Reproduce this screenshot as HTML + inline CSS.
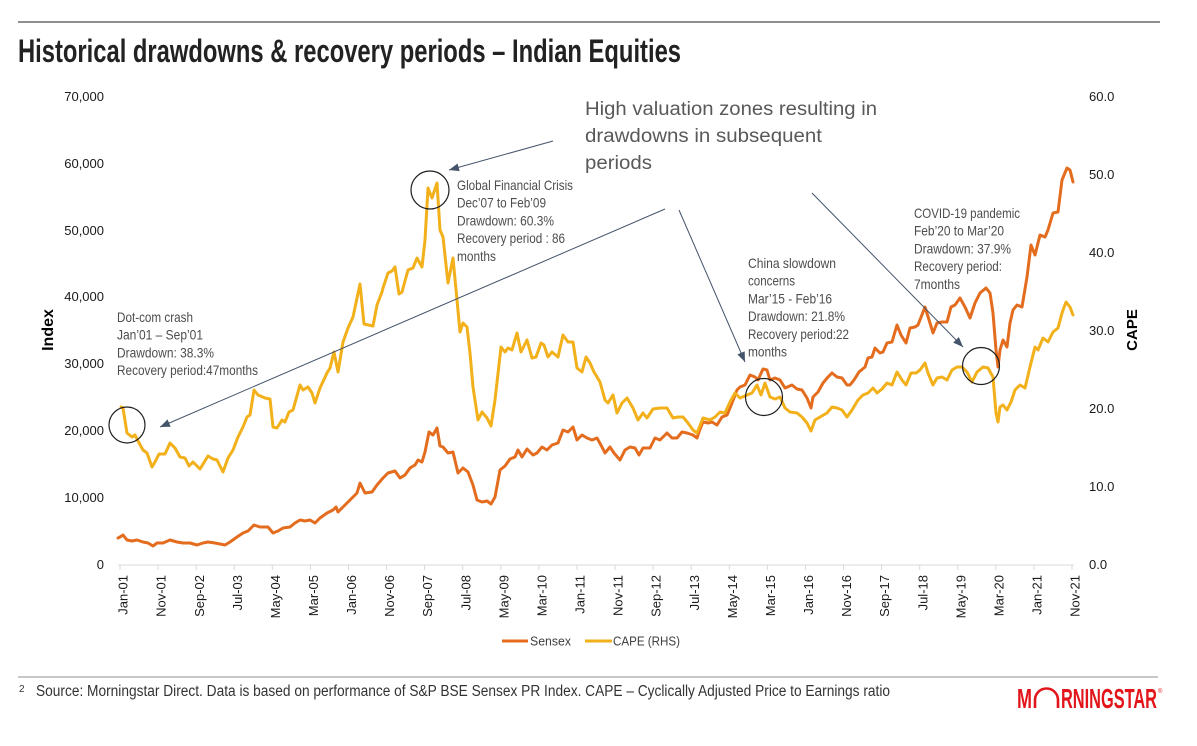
<!DOCTYPE html>
<html><head><meta charset="utf-8">
<style>
html,body{margin:0;padding:0;background:#fff;}
svg{display:block;}
text{font-family:"Liberation Sans",sans-serif;}
.n{font-family:"Liberation Sans Narrow","Liberation Sans",sans-serif;}
</style></head>
<body>
<svg width="1197" height="746" viewBox="0 0 1197 746" xmlns="http://www.w3.org/2000/svg">
<defs>
<marker id="ah" markerUnits="userSpaceOnUse" markerWidth="12" markerHeight="10" refX="10" refY="4" orient="auto">
<path d="M0,0 L10,4 L0,8 z" fill="#44546a"/>
</marker>
</defs>
<!-- top rule -->
<line x1="18" y1="22" x2="1160" y2="22" stroke="#8f8f8f" stroke-width="2"/>
<!-- title -->
<text class="n" x="18" y="62" font-size="32" font-weight="bold" fill="#222" textLength="663" lengthAdjust="spacingAndGlyphs">Historical drawdowns &amp; recovery periods – Indian Equities</text>

<!-- left axis labels -->
<g font-size="13" fill="#1a1a1a" text-anchor="end">
<text x="104" y="101">70,000</text>
<text x="104" y="168">60,000</text>
<text x="104" y="235">50,000</text>
<text x="104" y="301">40,000</text>
<text x="104" y="368">30,000</text>
<text x="104" y="435">20,000</text>
<text x="104" y="502">10,000</text>
<text x="104" y="569">0</text>
</g>
<!-- right axis labels -->
<g font-size="13" fill="#1a1a1a">
<text x="1089" y="101">60.0</text>
<text x="1089" y="179">50.0</text>
<text x="1089" y="257">40.0</text>
<text x="1089" y="335">30.0</text>
<text x="1089" y="413">20.0</text>
<text x="1089" y="491">10.0</text>
<text x="1089" y="569">0.0</text>
</g>
<text transform="translate(53,330) rotate(-90)" text-anchor="middle" font-size="16" font-weight="bold" fill="#000">Index</text>
<text transform="translate(1137,330) rotate(-90)" text-anchor="middle" font-size="15" font-weight="bold" fill="#000">CAPE</text>

<!-- x axis -->
<line x1="118" y1="565" x2="1074" y2="565" stroke="#d9d9d9" stroke-width="1"/>
<g stroke="#d9d9d9" stroke-width="1">
<line x1="120" y1="565" x2="120" y2="570"/><line x1="158.1" y1="565" x2="158.1" y2="570"/><line x1="196.2" y1="565" x2="196.2" y2="570"/><line x1="234.2" y1="565" x2="234.2" y2="570"/><line x1="272.3" y1="565" x2="272.3" y2="570"/><line x1="310.4" y1="565" x2="310.4" y2="570"/><line x1="348.5" y1="565" x2="348.5" y2="570"/><line x1="386.6" y1="565" x2="386.6" y2="570"/><line x1="424.6" y1="565" x2="424.6" y2="570"/><line x1="462.7" y1="565" x2="462.7" y2="570"/><line x1="500.8" y1="565" x2="500.8" y2="570"/><line x1="538.9" y1="565" x2="538.9" y2="570"/><line x1="577" y1="565" x2="577" y2="570"/><line x1="615" y1="565" x2="615" y2="570"/><line x1="653.1" y1="565" x2="653.1" y2="570"/><line x1="691.2" y1="565" x2="691.2" y2="570"/><line x1="729.3" y1="565" x2="729.3" y2="570"/><line x1="767.4" y1="565" x2="767.4" y2="570"/><line x1="805.4" y1="565" x2="805.4" y2="570"/><line x1="843.5" y1="565" x2="843.5" y2="570"/><line x1="881.6" y1="565" x2="881.6" y2="570"/><line x1="919.7" y1="565" x2="919.7" y2="570"/><line x1="957.8" y1="565" x2="957.8" y2="570"/><line x1="995.8" y1="565" x2="995.8" y2="570"/><line x1="1033.9" y1="565" x2="1033.9" y2="570"/><line x1="1072" y1="565" x2="1072" y2="570"/>
</g>
<g font-size="13" fill="#1a1a1a" text-anchor="end">
<text transform="translate(123,575) rotate(-90)" dy="0.35em">Jan-01</text>
<text transform="translate(161.1,575) rotate(-90)" dy="0.35em">Nov-01</text>
<text transform="translate(199.2,575) rotate(-90)" dy="0.35em">Sep-02</text>
<text transform="translate(237.2,575) rotate(-90)" dy="0.35em">Jul-03</text>
<text transform="translate(275.3,575) rotate(-90)" dy="0.35em">May-04</text>
<text transform="translate(313.4,575) rotate(-90)" dy="0.35em">Mar-05</text>
<text transform="translate(351.5,575) rotate(-90)" dy="0.35em">Jan-06</text>
<text transform="translate(389.6,575) rotate(-90)" dy="0.35em">Nov-06</text>
<text transform="translate(427.6,575) rotate(-90)" dy="0.35em">Sep-07</text>
<text transform="translate(465.7,575) rotate(-90)" dy="0.35em">Jul-08</text>
<text transform="translate(503.8,575) rotate(-90)" dy="0.35em">May-09</text>
<text transform="translate(541.9,575) rotate(-90)" dy="0.35em">Mar-10</text>
<text transform="translate(580,575) rotate(-90)" dy="0.35em">Jan-11</text>
<text transform="translate(618,575) rotate(-90)" dy="0.35em">Nov-11</text>
<text transform="translate(656.1,575) rotate(-90)" dy="0.35em">Sep-12</text>
<text transform="translate(694.2,575) rotate(-90)" dy="0.35em">Jul-13</text>
<text transform="translate(732.3,575) rotate(-90)" dy="0.35em">May-14</text>
<text transform="translate(770.4,575) rotate(-90)" dy="0.35em">Mar-15</text>
<text transform="translate(808.4,575) rotate(-90)" dy="0.35em">Jan-16</text>
<text transform="translate(846.5,575) rotate(-90)" dy="0.35em">Nov-16</text>
<text transform="translate(884.6,575) rotate(-90)" dy="0.35em">Sep-17</text>
<text transform="translate(922.7,575) rotate(-90)" dy="0.35em">Jul-18</text>
<text transform="translate(960.8,575) rotate(-90)" dy="0.35em">May-19</text>
<text transform="translate(998.8,575) rotate(-90)" dy="0.35em">Mar-20</text>
<text transform="translate(1036.9,575) rotate(-90)" dy="0.35em">Jan-21</text>
<text transform="translate(1075,575) rotate(-90)" dy="0.35em">Nov-21</text>
</g>

<!-- Sensex -->
<polyline fill="none" stroke="#e46c1e" stroke-width="3" stroke-linejoin="round" stroke-linecap="round" points="118,538 120,537 123,535 127,540 132,541 137,540 143,542 148,543 153,546 157,543 163,543 170,540 177,542 183,543 190,543 197,545 203,543 208,542 215,543 220,544 225,545 230,542 237,537 243,533 248,531 254,525 260,527 268,527 273,533 278,531 283,528 290,527 295,523 300,520 305,521 310,520 315,523 320,518 327,513 333,510 336,507 338,512 343,507 350,500 357,493 360,483 365,493 372,492 377,485 383,478 388,473 395,471 400,478 405,475 410,468 415,465 418,460 422,462 425,452 429,432 433,435 437,428 440,446 443,447 448,453 453,452 458,473 463,468 468,472 473,485 477,500 482,502 487,501 491,504 495,497 500,470 505,466 510,459 515,457 518,450 522,457 527,449 533,455 537,453 542,447 547,450 552,445 558,443 563,430 568,432 573,427 577,440 582,435 587,438 592,440 597,438 602,447 605,453 610,447 614,453 620,460 625,450 630,447 635,448 639,455 643,448 650,448 655,438 660,440 667,433 672,438 677,438 682,432 687,433 693,435 697,438 700,429 703,422 708,423 712,422 717,425 722,417 727,415 732,403 737,390 740,387 745,385 750,375 755,377 758,380 763,369 767,370 770,380 775,378 780,380 785,388 792,385 797,389 802,390 807,398 811,408 813,397 818,392 823,383 828,377 832,373 837,377 842,378 847,385 850,385 854,380 859,372 865,367 868,358 872,357 875,348 880,353 883,352 887,343 892,342 897,325 901,335 906,343 910,328 915,327 918,325 925,307 930,323 933,333 937,323 942,322 947,322 951,307 955,305 960,298 965,307 970,318 975,303 980,293 986,288 990,293 993,313 996,350 998,367 1000,350 1003,340 1007,347 1010,323 1013,310 1017,305 1022,307 1027,277 1031,245 1035,255 1040,235 1045,237 1048,230 1053,213 1058,212 1062,180 1067,168 1070,170 1073,182"/>

<!-- CAPE -->
<polyline fill="none" stroke="#f2b01a" stroke-width="3" stroke-linejoin="round" stroke-linecap="round" points="121,407 123,408 127,433 132,437 135,435 138,441 143,450 147,453 152,467 155,462 159,454 165,454 170,443 175,448 180,457 185,458 189,466 193,462 200,469 208,456 213,459 217,460 223,472 228,458 233,450 238,437 243,427 247,417 250,415 254,390 258,395 265,398 270,399 273,427 277,428 282,420 285,422 289,412 293,410 300,385 303,390 308,387 312,393 315,403 320,388 327,373 330,368 334,352 338,372 343,342 348,328 353,317 360,284 364,324 373,326 377,305 382,292 383,288 388,273 392,271 395,267 399,294 402,292 408,270 413,268 417,258 422,267 425,240 428,188 432,198 437,183 440,230 443,237 448,283 453,258 457,300 460,332 463,323 467,327 470,353 473,387 478,420 482,412 487,418 491,426 495,400 501,347 505,352 508,348 512,350 517,333 521,352 527,340 532,358 536,357 541,343 544,345 548,357 552,352 558,357 563,335 568,342 573,342 577,368 582,372 586,357 590,363 594,372 600,382 605,400 608,403 613,395 617,413 622,403 627,398 633,408 638,420 643,413 647,418 653,409 660,408 667,408 673,418 678,417 683,417 688,423 693,430 697,433 703,418 710,420 715,417 720,412 725,413 730,402 735,393 740,398 747,395 752,393 757,385 761,395 765,383 770,397 775,399 780,397 785,408 790,412 797,413 802,417 807,423 811,431 815,420 820,417 827,413 832,407 837,408 842,410 847,417 852,410 858,400 863,395 868,393 873,388 877,393 882,389 887,383 892,385 897,372 902,380 906,385 911,373 916,373 920,370 925,363 928,373 933,385 937,378 942,377 947,380 952,370 957,367 962,367 967,372 972,382 977,372 983,367 988,368 993,377 996,413 998,422 1000,407 1003,405 1007,410 1011,402 1015,390 1020,385 1025,388 1030,367 1035,347 1038,350 1043,338 1048,342 1053,332 1058,328 1062,313 1066,302 1070,307 1073,315"/>

<!-- circles -->
<g fill="none" stroke="#1f1f1f" stroke-width="1.2">
<circle cx="127" cy="425" r="18"/>
<circle cx="430" cy="190" r="19"/>
<circle cx="764" cy="397" r="18.5"/>
<circle cx="981" cy="366" r="18.5"/>
</g>

<!-- arrows -->
<g stroke="#44546a" stroke-width="1" fill="none">
<line x1="665" y1="209" x2="160" y2="427" marker-end="url(#ah)"/>
<line x1="553" y1="141" x2="449" y2="170" marker-end="url(#ah)"/>
<line x1="679" y1="210" x2="745" y2="362" marker-end="url(#ah)"/>
<line x1="812" y1="193" x2="963" y2="347" marker-end="url(#ah)"/>
</g>

<!-- headline annotation -->
<g font-size="19" fill="#595959">
<text x="585" y="115" textLength="292" lengthAdjust="spacingAndGlyphs">High valuation zones resulting in</text>
<text x="585" y="142" textLength="237" lengthAdjust="spacingAndGlyphs">drawdowns in subsequent</text>
<text x="585" y="169" textLength="67" lengthAdjust="spacingAndGlyphs">periods</text>
</g>

<!-- event annotations -->
<g class="n" font-size="14" fill="#4d4d4d">
<text class="n" x="117" y="322" textLength="76" lengthAdjust="spacingAndGlyphs">Dot-com crash</text>
<text class="n" x="117" y="339.7" textLength="86" lengthAdjust="spacingAndGlyphs">Jan’01 – Sep’01</text>
<text class="n" x="117" y="357.4" textLength="97" lengthAdjust="spacingAndGlyphs">Drawdown: 38.3%</text>
<text class="n" x="117" y="375" textLength="141" lengthAdjust="spacingAndGlyphs">Recovery period:47months</text>

<text class="n" x="457" y="190" textLength="116" lengthAdjust="spacingAndGlyphs">Global Financial Crisis</text>
<text class="n" x="457" y="207.7" textLength="89" lengthAdjust="spacingAndGlyphs">Dec’07 to Feb’09</text>
<text class="n" x="457" y="225.4" textLength="97" lengthAdjust="spacingAndGlyphs">Drawdown: 60.3%</text>
<text class="n" x="457" y="243" textLength="108" lengthAdjust="spacingAndGlyphs">Recovery period : 86</text>
<text class="n" x="457" y="260.8" textLength="39" lengthAdjust="spacingAndGlyphs">months</text>

<text class="n" x="748" y="268" textLength="88" lengthAdjust="spacingAndGlyphs">China slowdown</text>
<text class="n" x="748" y="285.7" textLength="47" lengthAdjust="spacingAndGlyphs">concerns</text>
<text class="n" x="748" y="303.4" textLength="84" lengthAdjust="spacingAndGlyphs">Mar’15 - Feb’16</text>
<text class="n" x="748" y="321" textLength="97" lengthAdjust="spacingAndGlyphs">Drawdown: 21.8%</text>
<text class="n" x="748" y="338.8" textLength="101" lengthAdjust="spacingAndGlyphs">Recovery period:22</text>
<text class="n" x="748" y="356.5" textLength="39" lengthAdjust="spacingAndGlyphs">months</text>

<text class="n" x="914" y="218" textLength="106" lengthAdjust="spacingAndGlyphs">COVID-19 pandemic</text>
<text class="n" x="914" y="235.7" textLength="90" lengthAdjust="spacingAndGlyphs">Feb’20 to Mar’20</text>
<text class="n" x="914" y="253.4" textLength="97" lengthAdjust="spacingAndGlyphs">Drawdown: 37.9%</text>
<text class="n" x="914" y="271" textLength="88" lengthAdjust="spacingAndGlyphs">Recovery period:</text>
<text class="n" x="914" y="288.8" textLength="46" lengthAdjust="spacingAndGlyphs">7months</text>
</g>

<!-- legend -->
<line x1="502" y1="641" x2="528" y2="641" stroke="#e46c1e" stroke-width="3"/>
<text x="530" y="645.5" font-size="13" fill="#404040" textLength="41" lengthAdjust="spacingAndGlyphs">Sensex</text>
<line x1="585" y1="641" x2="612" y2="641" stroke="#f2b01a" stroke-width="3"/>
<text x="613" y="645.5" font-size="13" fill="#404040" textLength="67" lengthAdjust="spacingAndGlyphs">CAPE (RHS)</text>

<!-- footer -->
<line x1="18" y1="677" x2="1158" y2="677" stroke="#8f8f8f" stroke-width="1"/>
<text class="n" x="19" y="692" font-size="10" fill="#333">2</text>
<text class="n" x="36" y="696" font-size="15.5" fill="#333" textLength="854" lengthAdjust="spacingAndGlyphs">Source: Morningstar Direct. Data is based on performance of S&amp;P BSE Sensex PR Index. CAPE – Cyclically Adjusted Price to Earnings ratio</text>

<!-- logo -->
<g fill="#e2151b">
<text x="1017" y="708" font-size="28" font-weight="bold" textLength="15" lengthAdjust="spacingAndGlyphs">M</text>
<path d="M1035,708 L1035,700 A11.5,11.5 0 0 1 1058,700 L1058,708" fill="none" stroke="#e2151b" stroke-width="2.6"/>
<text x="1061" y="708" font-size="28" font-weight="bold" textLength="96" lengthAdjust="spacingAndGlyphs">RNINGSTAR</text>
<text x="1158" y="693" font-size="6" fill="#e2151b">®</text>
</g>
</svg>
</body></html>
